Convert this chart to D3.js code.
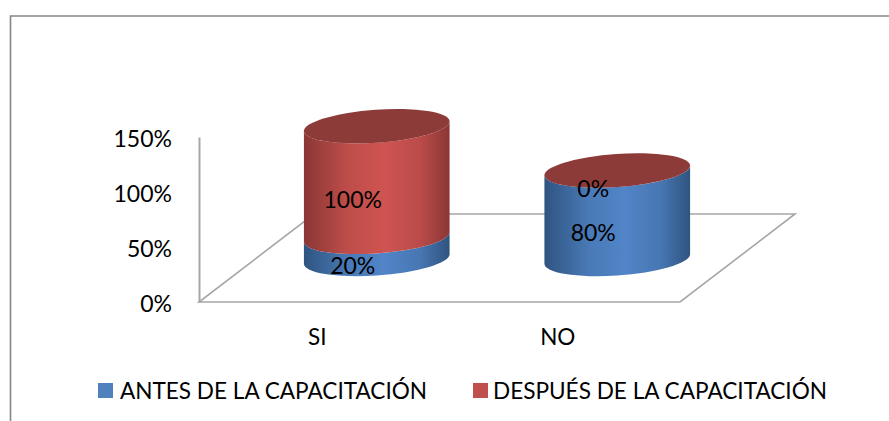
<!DOCTYPE html>
<html>
<head>
<meta charset="utf-8">
<script src="https://cdn.jsdelivr.net/npm/d3@7"></script>
<style>
  html, body { margin: 0; background: #fff; }
  svg { display: block; }
  text { font-family: Lato, "Noto Sans", sans-serif; fill: #000; }
</style>
</head>
<body>
<svg width="889" height="421"></svg>
<script>
const categories = ["SI", "NO"];
const seriesNames = ["ANTES DE LA CAPACITACIÓN", "DESPUÉS DE LA CAPACITACIÓN"];
const antes = [0.2, 0.8];
const despues = [1.0, 0];
const tickValues = [0, 0.5, 1, 1.5];

const blue = { dark: "#2f5480", light: "#5185c8", flat: "#4f81bd" };
const red = { dark: "#8a3735", light: "#cf5451", flat: "#c0504d", top: "#8c3b39" };

const svg = d3.select("svg");
const axisGrey = "#a6a6a6";

// chart frame, open on the right and at the bottom
svg.append("path")
  .attr("d", "M10.5,421V16H889")
  .attr("fill", "none")
  .attr("stroke", "#868686")
  .attr("stroke-width", 1.6);

const x = d3.scaleBand().domain(categories).range([199, 680]);
const y = d3.scaleLinear().domain([0, 1.5]).range([302, 137]);
// columns stand on the floor, so their height has its own foreshortened scale
const h = d3.scaleLinear().domain([0, 1.5]).range([0, 166]);

const depthX = 115, depthY = 88;

// floor of the 3D plot
svg.append("path")
  .attr("d", d3.line()([
    [x.range()[0], y(0)],
    [x.range()[1], y(0)],
    [x.range()[1] + depthX, y(0) - depthY],
    [x.range()[0] + depthX, y(0) - depthY]
  ]) + "Z")
  .attr("fill", "none")
  .attr("stroke", axisGrey)
  .attr("stroke-width", 1.6);

const yAxis = svg.append("g")
  .attr("transform", `translate(${x.range()[0]},0)`)
  .call(d3.axisLeft(y).tickValues(tickValues).tickFormat(d3.format(".0%")).tickSize(0).tickPadding(27));
yAxis.select(".domain").attr("stroke", axisGrey).attr("stroke-width", 2);
yAxis.selectAll("text").attr("font-size", 23).attr("dy", "0.42em")
  .style("font-family", "Lato, sans-serif");

svg.append("g").selectAll("text")
  .data(categories)
  .join("text")
  .attr("x", d => x(d) + x.bandwidth() / 2 - 2)
  .attr("y", 345)
  .attr("text-anchor", "middle")
  .attr("font-size", 22.5)
  .text(d => d);

// shading around the round side of the columns
const defs = svg.append("defs");
function sideGradient(id, c) {
  const g = defs.append("linearGradient").attr("id", id).attr("x1", 0).attr("x2", 1).attr("y1", 0).attr("y2", 0);
  [[0, c.dark], [0.3, d3.interpolateRgb(c.dark, c.light)(0.75)], [0.55, c.light], [0.8, d3.interpolateRgb(c.dark, c.light)(0.7)], [1, c.dark]]
    .forEach(s => g.append("stop").attr("offset", s[0]).attr("stop-color", s[1]));
}
sideGradient("side-blue", blue);
sideGradient("side-red", red);

const table = categories.map((c, i) => ({ category: c, antes: antes[i], despues: despues[i] }));
const stacked = d3.stack().keys(["antes", "despues"])(table);

const rx = 73, ry = 16.5, tilt = -4;
const t = tilt * Math.PI / 180;
// where the tilted ellipse meets its vertical silhouette
const edgeX = Math.sqrt(rx * rx * Math.cos(t) ** 2 + ry * ry * Math.sin(t) ** 2);
const edgeY = (rx * rx - ry * ry) * Math.sin(t) * Math.cos(t) / edgeX;
const floorY = 259, columnShift = 57.5;

function body(cx, v0, v1) {
  const y0 = floorY - h(v0), y1 = floorY - h(v1);
  const xl = cx - edgeX, xr = cx + edgeX;
  return `M${xl},${y1 - edgeY}L${xl},${y0 - edgeY}A${rx},${ry} ${tilt} 0 0 ${xr},${y0 + edgeY}` +
    `L${xr},${y1 + edgeY}A${rx},${ry} ${tilt} 0 1 ${xl},${y1 - edgeY}Z`;
}

const columns = svg.append("g");
stacked.forEach((layer, s) => {
  columns.append("g").selectAll("path")
    .data(layer)
    .join("path")
    .attr("d", d => body(x(d.data.category) + x.bandwidth() / 2 + columnShift, d[0], d[1]))
    .attr("fill", s === 0 ? "url(#side-blue)" : "url(#side-red)");
});

// caps in the darker tone of the top series
columns.append("g").selectAll("ellipse")
  .data(stacked[1])
  .join("ellipse")
  .attr("rx", rx)
  .attr("ry", ry)
  .attr("fill", red.top)
  .attr("transform", d => `translate(${x(d.data.category) + x.bandwidth() / 2 + columnShift},${floorY - h(d[1])}) rotate(${tilt})`);

// data labels
stacked.forEach(layer => {
  svg.append("g").selectAll("text")
    .data(layer)
    .join("text")
    .attr("x", d => x(d.data.category) + x.bandwidth() / 2 + columnShift - 24)
    .attr("y", d => floorY - h((d[0] + d[1]) / 2) + 18)
    .attr("dy", "0.36em")
    .attr("text-anchor", "middle")
    .attr("font-size", 23)
    .text(d => d3.format(".0%")(d[1] - d[0]));
});

// legend
const legendX = [98, 473], legendLen = [307, 334];
const legend = svg.append("g").selectAll("g")
  .data(seriesNames)
  .join("g")
  .attr("transform", (d, i) => `translate(${legendX[i]},383)`);
legend.append("rect")
  .attr("width", 15)
  .attr("height", 15)
  .attr("fill", (d, i) => i === 0 ? blue.flat : red.flat);
legend.append("text")
  .attr("x", (d, i) => i === 0 ? 22 : 20)
  .attr("y", 15.5)
  .attr("font-size", 22.5)
  .attr("textLength", (d, i) => legendLen[i])
  .attr("lengthAdjust", "spacingAndGlyphs")
  .text(d => d);
</script>
</body>
</html>
